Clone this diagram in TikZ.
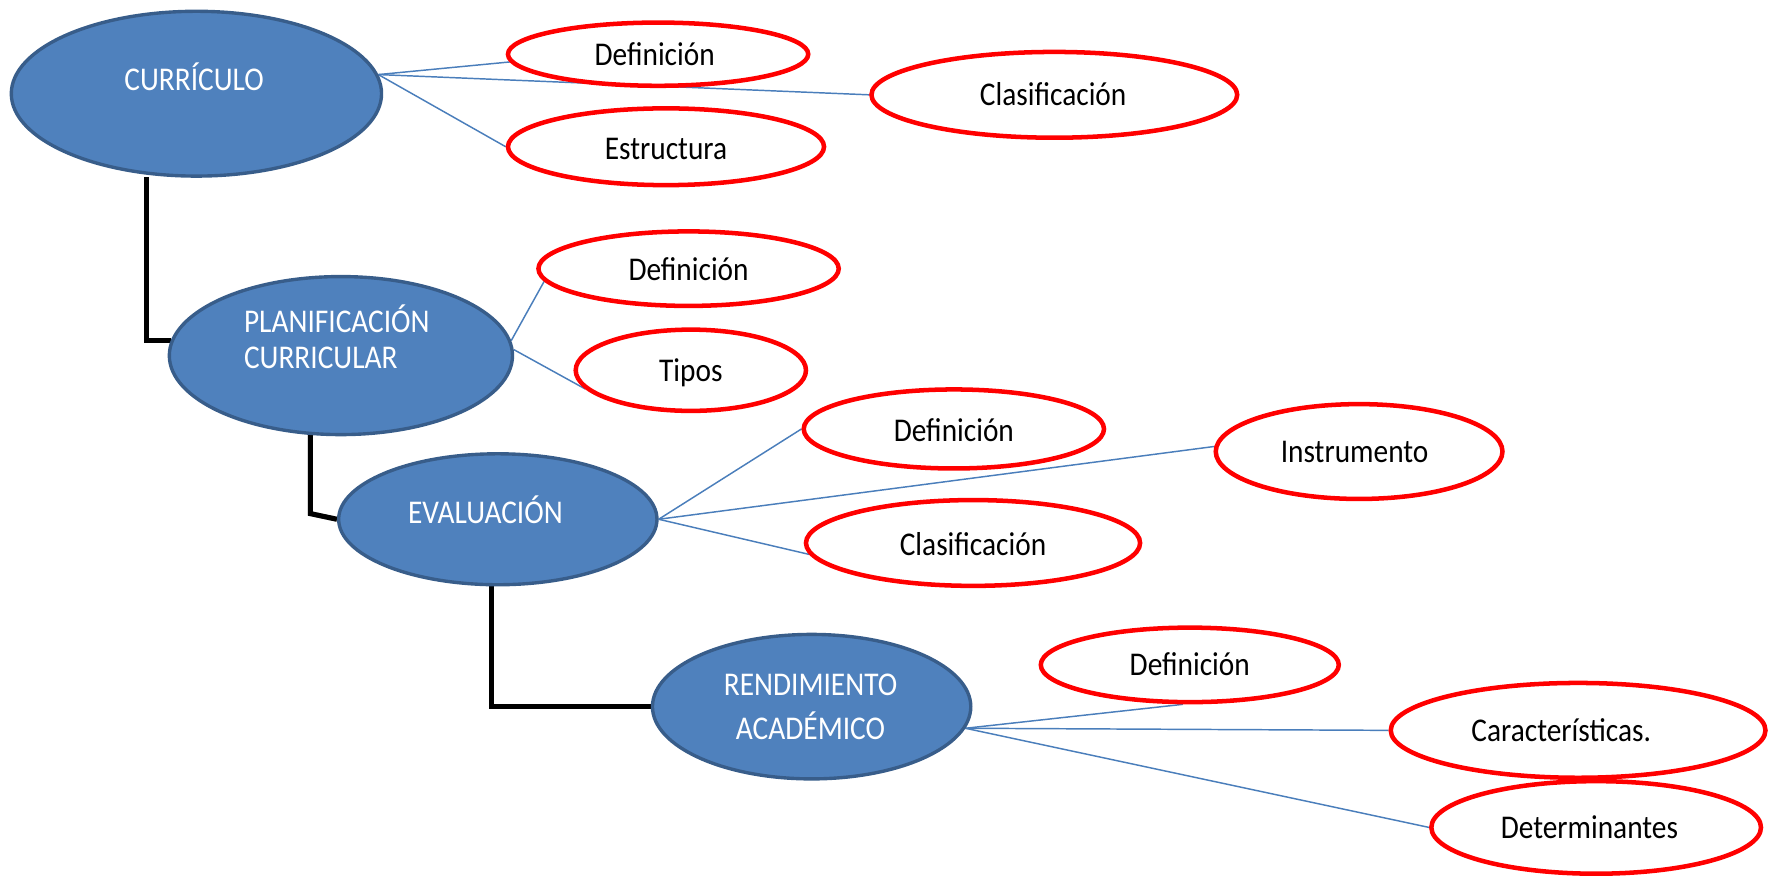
\documentclass[tikz,border=0pt]{standalone}
\usepackage{fontspec}
\setmainfont{Carlito}
\usetikzlibrary{shapes.geometric}
\definecolor{bfill}{HTML}{4F81BD}
\definecolor{bdraw}{HTML}{385D8A}
\definecolor{rdraw}{HTML}{FF0000}
\definecolor{lblue}{HTML}{4A7EBB}
\pgfdeclarelayer{bg}
\pgfsetlayers{bg,main}
\newcommand\tallt[1]{\scalebox{1}[1.13]{#1}}
\tikzset{
  mainell/.style={ellipse, fill=bfill, draw=bdraw, line width=3pt, inner sep=0pt},
  subell/.style={ellipse, fill=white, draw=rdraw, line width=4pt, inner sep=0pt},
  wtxt/.style={text=white, font=\fontsize{26}{32}\selectfont, inner sep=0pt},
  btxt/.style={text=black, font=\fontsize{26}{32}\selectfont, inner sep=0pt},
  link/.style={draw=lblue, line width=1.3pt},
  trunk/.style={draw=black, line width=4.5pt},
  trunkshadow/.style={draw=black!30, line width=4.5pt},
}
\begin{document}
\begin{tikzpicture}[x=1pt,y=-1pt]
\useasboundingbox (0,0) rectangle (1568,778);
% main ellipses
\node[mainell, minimum width=328pt, minimum height=146pt] (cur) at (174,83) {};
\node[wtxt] (curt) at (172,68) {\tallt{CURRÍCULO}};
\node[mainell, minimum width=304pt, minimum height=140pt] (plan) at (302,315) {};
\node[wtxt, anchor=west] (plant1) at (216,282) {\tallt{PLANIFICACIÓN}};
\node[wtxt, anchor=west] (plant2) at (216,317) {\tallt{CURRICULAR}};
\node[mainell, minimum width=282pt, minimum height=116pt] (eval) at (441,460) {};
\node[wtxt] (evalt) at (430,452) {\tallt{EVALUACIÓN}};
\node[mainell, minimum width=282pt, minimum height=128pt] (rend) at (719,626) {};
\node[wtxt] (rendt1) at (718,607) {\tallt{RENDIMIENTO}};
\node[wtxt] (rendt2) at (718,643) {\tallt{ACADÉMICO}};
% sub ellipses
\node[subell, minimum width=266pt, minimum height=56pt] (def1) at (583,48) {};
\node[btxt] (def1t) at (580,48) {\tallt{Definición}};
\node[subell, minimum width=324pt, minimum height=76pt] (clas1) at (934,84) {};
\node[btxt] (clas1t) at (933,83) {\tallt{Clasificación}};
\node[subell, minimum width=280pt, minimum height=68pt] (est) at (590,130) {};
\node[btxt] (estt) at (590,132) {\tallt{Estructura}};
\node[subell, minimum width=266pt, minimum height=66pt] (def2) at (610,238) {};
\node[btxt] (def2t) at (610,238) {\tallt{Definición}};
\node[subell, minimum width=204pt, minimum height=72pt] (tipos) at (612,328) {};
\node[btxt] (tipost) at (612,330) {\tallt{Tipos}};
\node[subell, minimum width=266pt, minimum height=70pt] (def3) at (845,380) {};
\node[btxt] (def3t) at (845,381) {\tallt{Definición}};
\node[subell, minimum width=254pt, minimum height=84pt] (ins) at (1204,400) {};
\node[btxt] (inst) at (1200,400) {\tallt{Instrumento}};
\node[subell, minimum width=296pt, minimum height=76pt] (clas3) at (862,481) {};
\node[btxt] (clas3t) at (862,482) {\tallt{Clasificación}};
\node[subell, minimum width=264pt, minimum height=66pt] (def4) at (1054,589) {};
\node[btxt] (def4t) at (1054,588) {\tallt{Definición}};
\node[subell, minimum width=332pt, minimum height=84pt] (car) at (1398,647) {};
\node[btxt] (cart) at (1383,647) {\tallt{Características.}};
\node[subell, minimum width=292pt, minimum height=82pt] (det) at (1414,733) {};
\node[btxt] (dett) at (1408,733) {\tallt{Determinantes}};
% junction coordinates
\coordinate (j1) at (130,157);
\coordinate (j2) at (275,372);
\coordinate (j2b) at (275,455);
\coordinate (j3) at (435,518);
\begin{pgfonlayer}{bg}
  \draw[link] (cur.6) -- (def1.183);
  \draw[link] (cur.6) -- (clas1.west);
  \draw[link] (cur.6) -- (est.west);
  \draw[link] (plan.5) -- (def2.185);
  \draw[link] (plan.2) -- (tipos.190);
  \draw[link] (eval.east) -- (def3.west);
  \draw[link] (eval.east) -- (ins.178);
  \draw[link] (eval.east) -- (clas3.184);
  \draw[link] (rend.-8) -- (def4.260);
  \draw[link] (rend.-8) -- (car.west);
  \draw[link] (rend.-8) -- (det.west);
  \draw[trunkshadow, shift={(2,2)}] (j1) |- (plan.175);
  \draw[trunk] (j1) |- (plan.175);
  \draw[trunkshadow, shift={(2,2)}] (j2) -- (j2b) -- (eval.west);
  \draw[trunk] (j2) -- (j2b) -- (eval.west);
  \draw[trunkshadow, shift={(2,2)}] (j3) |- (rend.west);
  \draw[trunk] (j3) |- (rend.west);
\end{pgfonlayer}
\end{tikzpicture}
\end{document}
